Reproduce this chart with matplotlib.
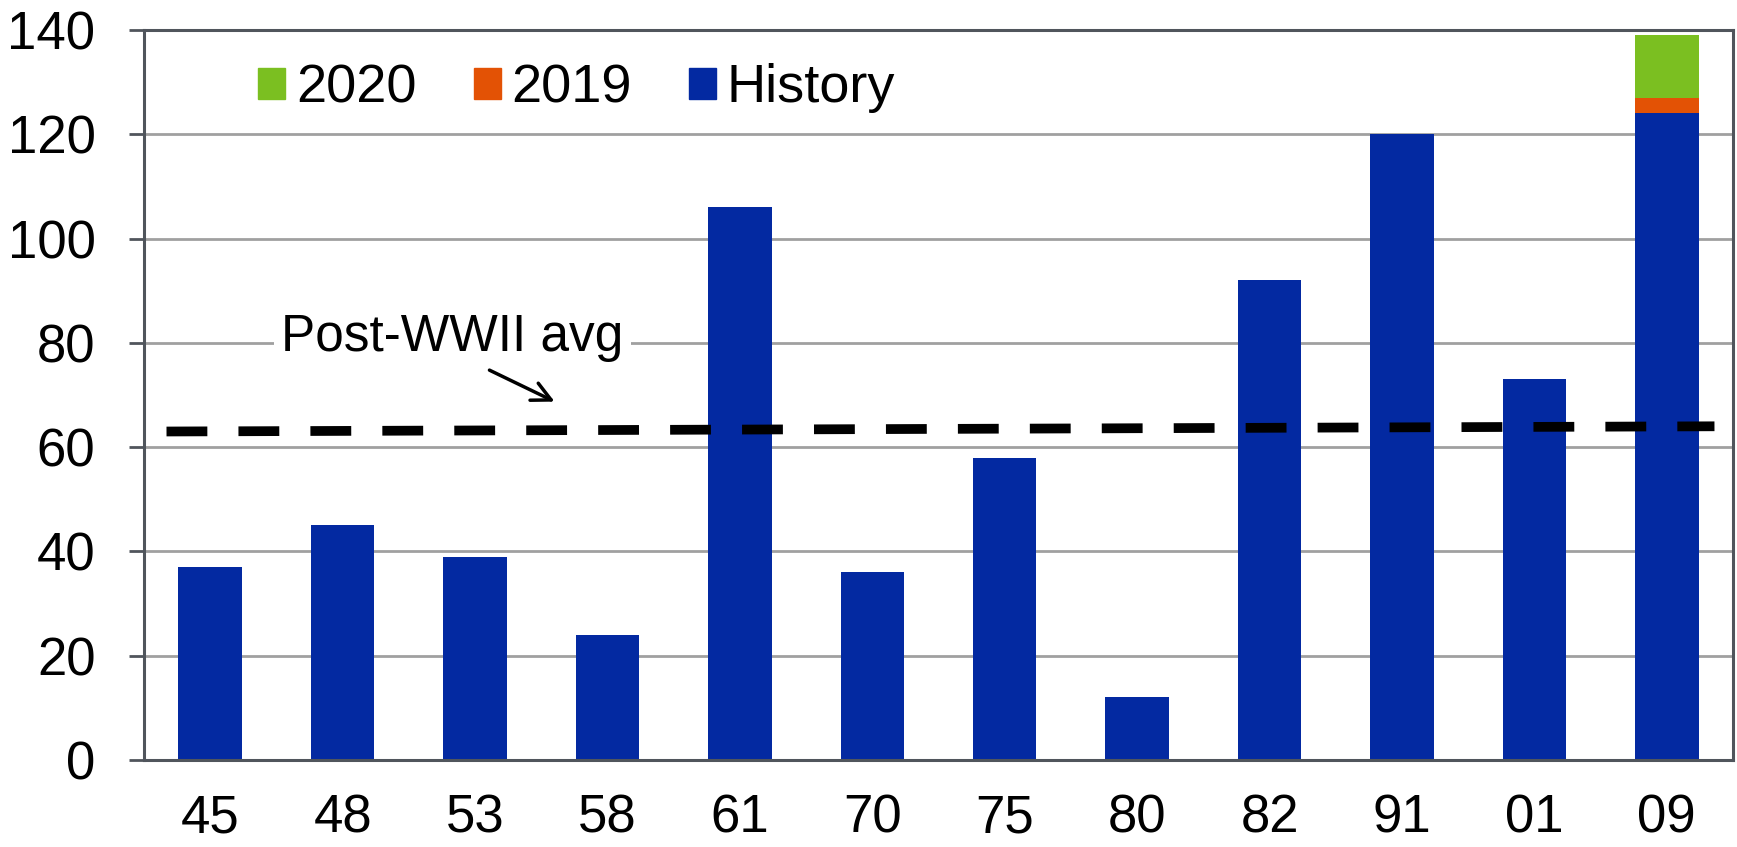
import numpy as np
import matplotlib
matplotlib.use("Agg")
import matplotlib.pyplot as plt
from matplotlib.patches import Patch

plt.rcParams['font.family'] = ['Liberation Sans', 'DejaVu Sans']

years = ['45', '48', '53', '58', '61', '70', '75', '80', '82', '91', '01', '09']
history = [37, 45, 39, 24, 106, 36, 58, 12, 92, 120, 73, 124]
add_2019 = [0, 0, 0, 0, 0, 0, 0, 0, 0, 0, 0, 3]
add_2020 = [0, 0, 0, 0, 0, 0, 0, 0, 0, 0, 0, 12]
avg_x = [-0.33, 11.36]
avg_y = [63.0, 64.0]

blue = '#0329A1'
orange = '#E35205'
green = '#7BBF21'

fig = plt.figure(figsize=(17.37, 8.47), dpi=100)
ax = fig.add_axes([0.0829, 0.1027, 0.9148, 0.8619])

x = np.arange(len(years))
h = np.array(history)
o = np.array(add_2019)
g = np.array(add_2020)
ax.bar(x, h, width=0.48, color=blue, zorder=2)
ax.bar(x, o, width=0.48, bottom=h, color=orange, zorder=2)
ax.bar(x, g, width=0.48, bottom=h + o, color=green, zorder=2)

ax.plot(avg_x, avg_y, color='black', lw=7, dashes=(4.2, 3.2), zorder=3)

ax.text(1.83, 81.0, 'Post-WWII avg', fontsize=37, ha='center', va='center',
        bbox=dict(facecolor='white', edgecolor='none', pad=5), zorder=2.5)
ax.annotate('', xy=(2.62, 68.5), xytext=(2.09, 75.0),
            arrowprops=dict(arrowstyle='->', color='black', lw=2.5,
                            mutation_scale=34), zorder=4)

ax.set_xlim(-0.5, 11.5)
ax.set_ylim(0, 140)
ax.set_yticks(np.arange(0, 141, 20))
ax.set_xticks(x)
ax.set_xticklabels(years)
ax.yaxis.grid(True, color='#A0A0A0', lw=2, zorder=0)
ax.set_axisbelow(True)
for s in ax.spines.values():
    s.set_color('#50555C')
    s.set_linewidth(2.2)
ax.tick_params(axis='y', length=11, width=2, color='#50555C', labelsize=38, pad=24)
ax.tick_params(axis='x', length=0, labelsize=38, pad=24)

handles = [Patch(color=green), Patch(color=orange), Patch(color=blue)]
ax.legend(handles, ['2020', '2019', 'History'], ncol=3, frameon=False,
          fontsize=39, loc='center left', bbox_to_anchor=(0.072, 0.92),
          handlelength=0.5, handleheight=0.5, handletextpad=0.2,
          columnspacing=1.05, borderpad=0, borderaxespad=0)

fig.savefig('out.png', dpi=100)
